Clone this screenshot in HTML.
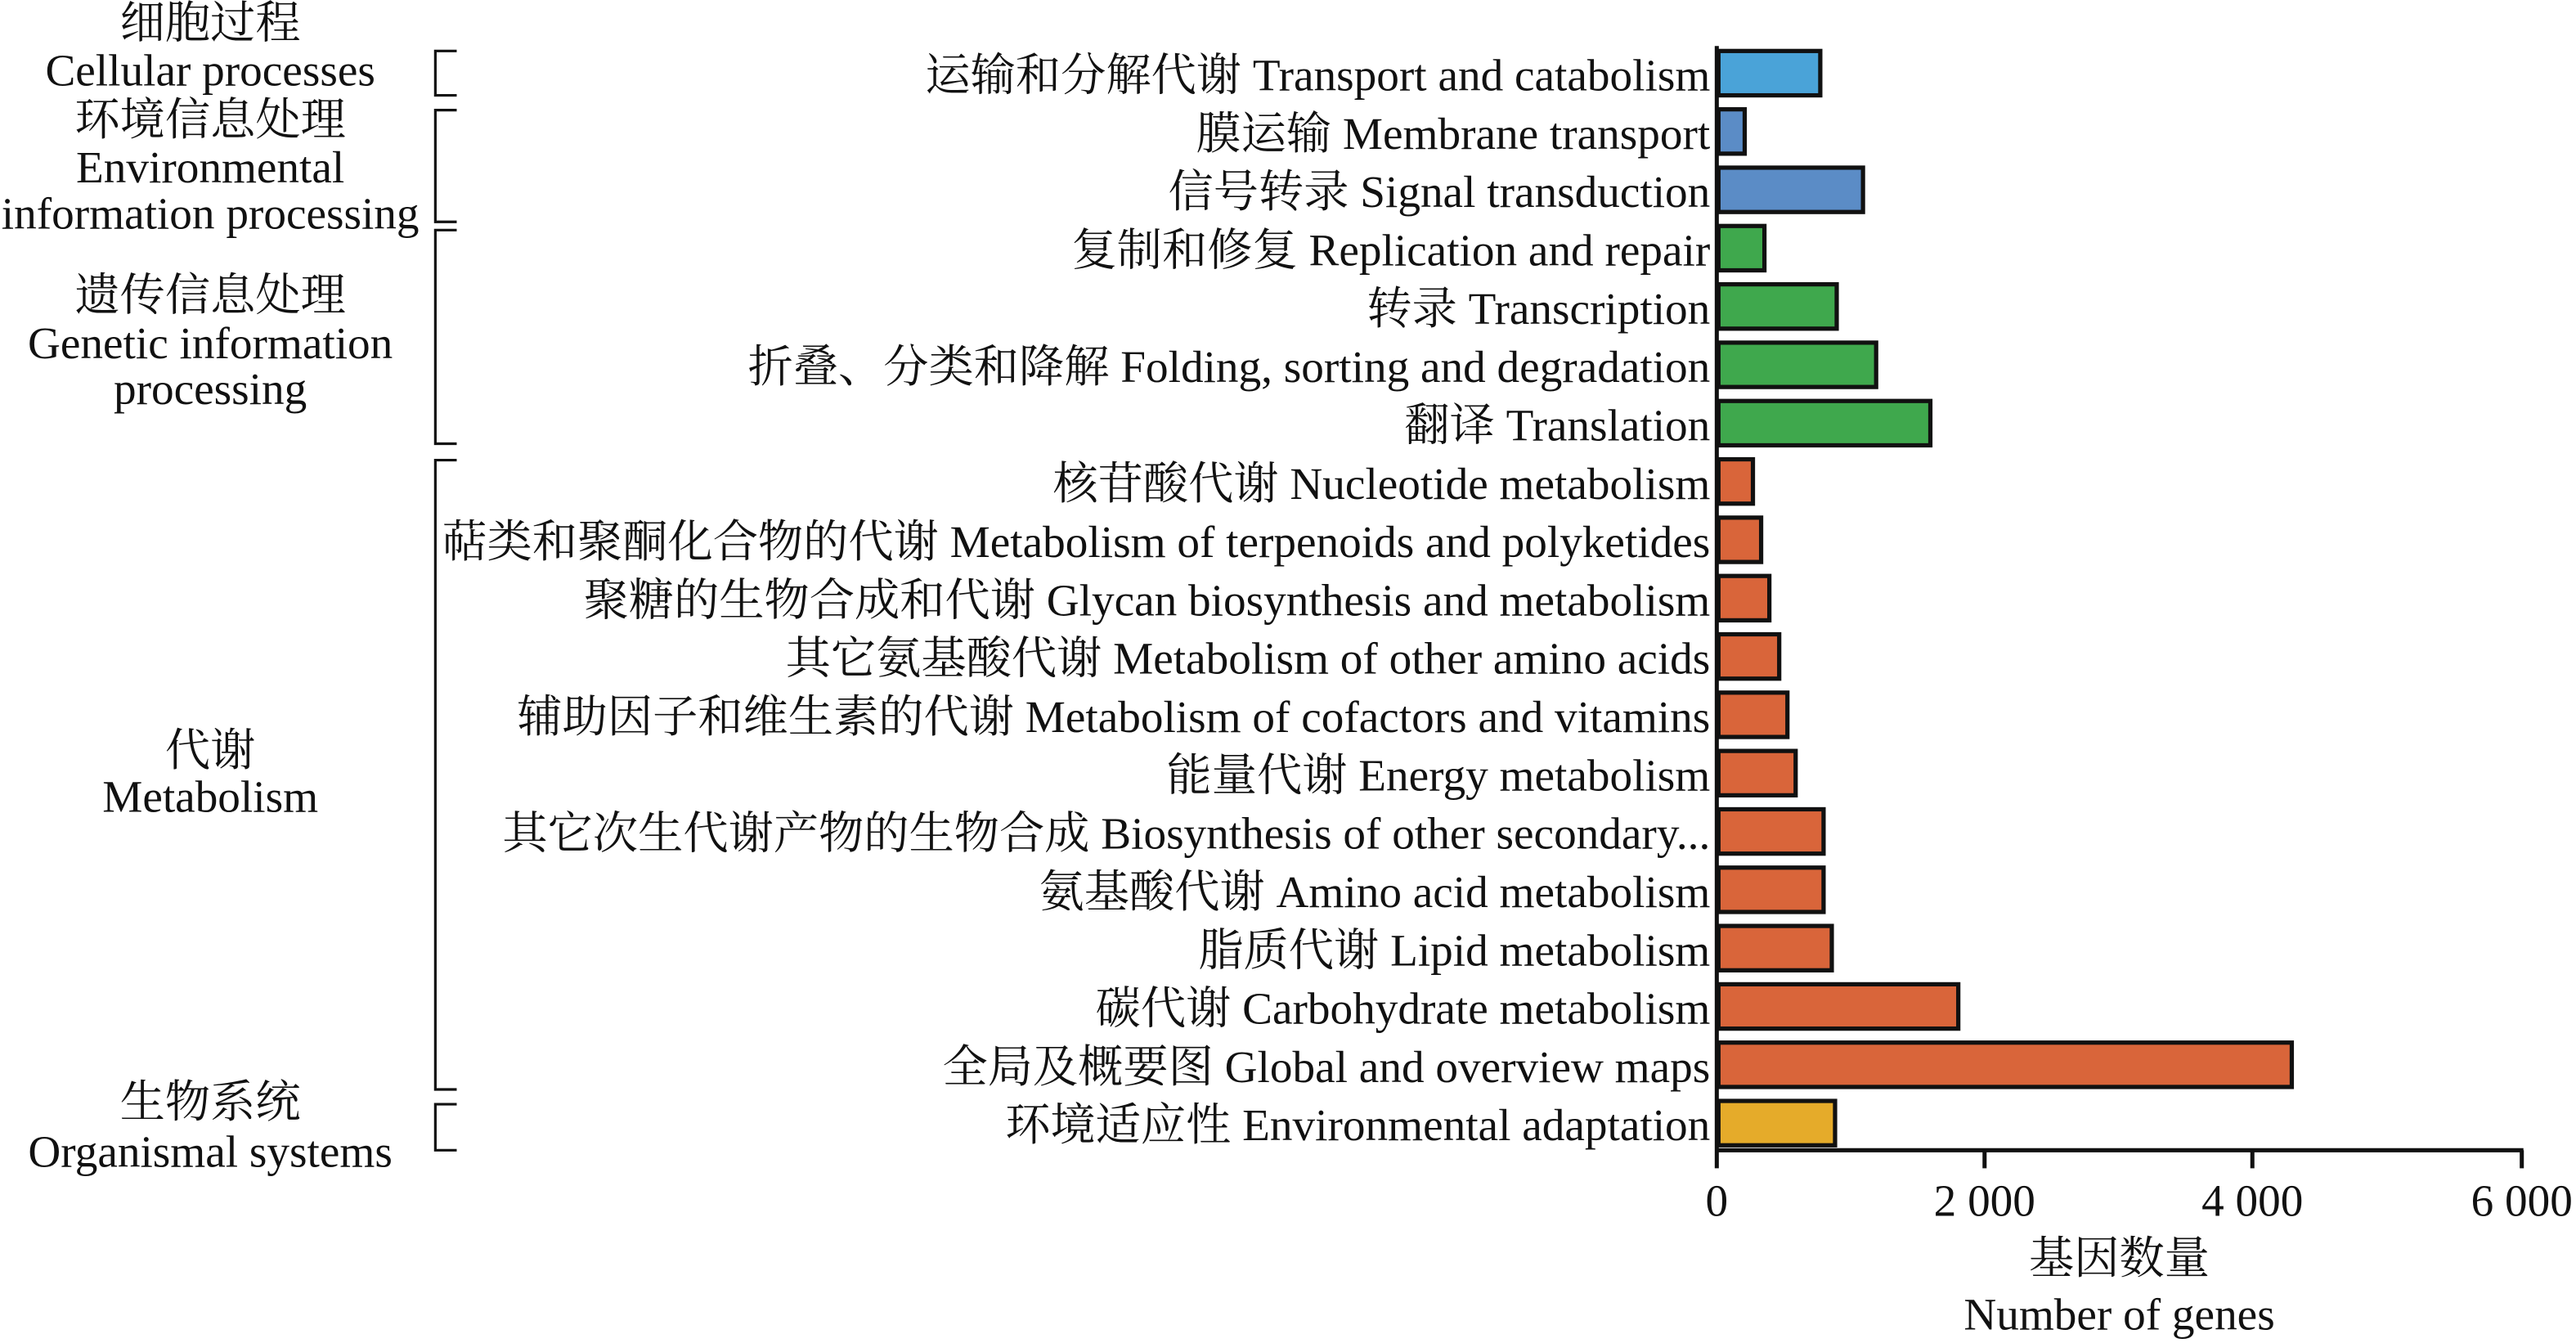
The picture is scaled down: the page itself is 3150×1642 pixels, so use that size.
<!DOCTYPE html>
<html><head><meta charset="utf-8"><style>
html,body{margin:0;padding:0;background:#fff;}
svg{display:block;}
text{font-family:"Liberation Serif","Noto Serif CJK SC",serif;font-size:27.5px;fill:#111;}
</style></head><body>
<svg width="3150" height="1642" viewBox="0 0 1568 817.3" xmlns="http://www.w3.org/2000/svg">
<g id="bars" stroke="#111" stroke-width="2.6">
<rect x="1046" y="31" width="62" height="27" fill="#4aa3d8"/>
<rect x="1046" y="66.5" width="16" height="27" fill="#5b8cc6"/>
<rect x="1046" y="102" width="88" height="27" fill="#5b8cc6"/>
<rect x="1046" y="137.5" width="28" height="27" fill="#3fa84d"/>
<rect x="1046" y="173" width="72" height="27" fill="#3fa84d"/>
<rect x="1046" y="208.5" width="96" height="27" fill="#3fa84d"/>
<rect x="1046" y="244" width="129" height="27" fill="#3fa84d"/>
<rect x="1046" y="279.5" width="21" height="27" fill="#d9653a"/>
<rect x="1046" y="315" width="26" height="27" fill="#d9653a"/>
<rect x="1046" y="350.5" width="31" height="27" fill="#d9653a"/>
<rect x="1046" y="386" width="37" height="27" fill="#d9653a"/>
<rect x="1046" y="421.5" width="42" height="27" fill="#d9653a"/>
<rect x="1046" y="457" width="47" height="27" fill="#d9653a"/>
<rect x="1046" y="492.5" width="64" height="27" fill="#d9653a"/>
<rect x="1046" y="528" width="64" height="27" fill="#d9653a"/>
<rect x="1046" y="563.5" width="69" height="27" fill="#d9653a"/>
<rect x="1046" y="599" width="146" height="27" fill="#d9653a"/>
<rect x="1046" y="634.5" width="349" height="27" fill="#d9653a"/>
<rect x="1046" y="670" width="71" height="27" fill="#e5ab2a"/>
</g>
<g stroke="#111" stroke-width="2.5" fill="none">
<line x1="1045" y1="28" x2="1045" y2="711"/>
<line x1="1044" y1="700" x2="1536" y2="700"/>
<line x1="1208" y1="700" x2="1208" y2="711"/>
<line x1="1371" y1="700" x2="1371" y2="711"/>
<line x1="1535" y1="700" x2="1535" y2="711"/>
</g>
<g stroke="#111" stroke-width="1.6" fill="none">
<polyline points="278,31 265,31 265,58 278,58"/>
<polyline points="278,67 265,67 265,135 278,135"/>
<polyline points="278,140 265,140 265,270 278,270"/>
<polyline points="278,280 265,280 265,663 278,663"/>
<polyline points="278,672 265,672 265,700 278,700"/>
</g>
<g text-anchor="end">
<text x="1041" y="55">运输和分解代谢 Transport and catabolism</text>
<text x="1041" y="90.5">膜运输 Membrane transport</text>
<text x="1041" y="126">信号转录 Signal transduction</text>
<text x="1041" y="161.5">复制和修复 Replication and repair</text>
<text x="1041" y="197">转录 Transcription</text>
<text x="1041" y="232.5">折叠、分类和降解 Folding, sorting and degradation</text>
<text x="1041" y="268">翻译 Translation</text>
<text x="1041" y="303.5">核苷酸代谢 Nucleotide metabolism</text>
<text x="1041" y="339">萜类和聚酮化合物的代谢 Metabolism of terpenoids and polyketides</text>
<text x="1041" y="374.5">聚糖的生物合成和代谢 Glycan biosynthesis and metabolism</text>
<text x="1041" y="410">其它氨基酸代谢 Metabolism of other amino acids</text>
<text x="1041" y="445.5">辅助因子和维生素的代谢 Metabolism of cofactors and vitamins</text>
<text x="1041" y="481">能量代谢 Energy metabolism</text>
<text x="1041" y="516.5">其它次生代谢产物的生物合成 Biosynthesis of other secondary...</text>
<text x="1041" y="552">氨基酸代谢 Amino acid metabolism</text>
<text x="1041" y="587.5">脂质代谢 Lipid metabolism</text>
<text x="1041" y="623">碳代谢 Carbohydrate metabolism</text>
<text x="1041" y="658.5">全局及概要图 Global and overview maps</text>
<text x="1041" y="694">环境适应性 Environmental adaptation</text>
</g>
<g text-anchor="middle">
<text x="1045" y="740">0</text>
<text x="1208" y="740">2 000</text>
<text x="1371" y="740">4 000</text>
<text x="1535" y="740">6 000</text>
<text x="1290" y="775">基因数量</text>
<text x="1290" y="809">Number of genes</text>
<text x="128" y="23">细胞过程</text>
<text x="128" y="52">Cellular processes</text>
<text x="128" y="82">环境信息处理</text>
<text x="128" y="111">Environmental</text>
<text x="128" y="139">information processing</text>
<text x="128" y="189">遗传信息处理</text>
<text x="128" y="218">Genetic information</text>
<text x="128" y="246">processing</text>
<text x="128" y="466">代谢</text>
<text x="128" y="494">Metabolism</text>
<text x="128" y="680">生物系统</text>
<text x="128" y="710">Organismal systems</text>
</g>
</svg>
</body></html>
